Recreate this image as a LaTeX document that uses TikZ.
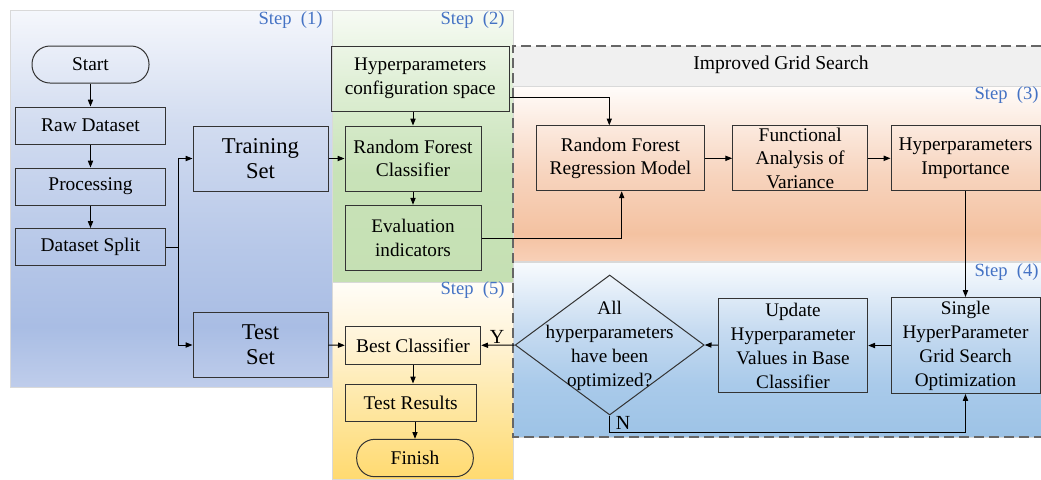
\documentclass[tikz,border=0pt]{standalone}
\usepackage{fontspec}
\setmainfont{Liberation Serif}
\usetikzlibrary{arrows.meta,shapes.geometric}
\definecolor{stepblue}{HTML}{4472C4}
% blue panel (step 1)
\definecolor{bA}{HTML}{BFCDEB}\definecolor{bB}{HTML}{A9BDE4}\definecolor{bC}{HTML}{B6C7E8}\definecolor{bD}{HTML}{D2DCF0}\definecolor{bE}{HTML}{F5F7FC}
\pgfdeclareverticalshading{blueshade}{100bp}{color(0bp)=(bA); color(25bp)=(bA); color(33bp)=(bB); color(43bp)=(bC); color(60bp)=(bD); color(75bp)=(bE); color(100bp)=(bE)}
% green panel (step 2)
\definecolor{gA}{HTML}{C5E0B3}\definecolor{gB}{HTML}{C8E2B8}\definecolor{gC}{HTML}{DDEED3}\definecolor{gD}{HTML}{F7FBF4}
\pgfdeclareverticalshading{greenshade}{100bp}{color(0bp)=(gA); color(25bp)=(gA); color(45bp)=(gB); color(60bp)=(gC); color(75bp)=(gD); color(100bp)=(gD)}
% yellow panel (step 5)
\definecolor{yA}{HTML}{FFDA70}\definecolor{yB}{HTML}{FEE8A8}\definecolor{yC}{HTML}{FFF3D6}\definecolor{yD}{HTML}{FFFDF8}
\pgfdeclareverticalshading{yellowshade}{100bp}{color(0bp)=(yA); color(25bp)=(yA); color(45bp)=(yB); color(60bp)=(yC); color(75bp)=(yD); color(100bp)=(yD)}
% orange panel (step 3)
\definecolor{oA}{HTML}{F8D0B8}\definecolor{oB}{HTML}{F4C2A1}\definecolor{oC}{HTML}{F7D4BE}\definecolor{oD}{HTML}{FFFCFA}
\pgfdeclareverticalshading{orangeshade}{100bp}{color(0bp)=(oA); color(25bp)=(oA); color(33bp)=(oB); color(50bp)=(oC); color(75bp)=(oD); color(100bp)=(oD)}
% blue panel (step 4)
\definecolor{cA}{HTML}{9DC3E6}\definecolor{cB}{HTML}{A9CAEA}\definecolor{cC}{HTML}{C5DAF0}\definecolor{cD}{HTML}{F8FBFE}
\pgfdeclareverticalshading{skyshade}{100bp}{color(0bp)=(cA); color(25bp)=(cA); color(40bp)=(cB); color(55bp)=(cC); color(75bp)=(cD); color(100bp)=(cD)}
\definecolor{bandgray}{HTML}{F0F0F0}
\begin{document}
\begin{tikzpicture}[x=0.5pt,y=-0.5pt,
  box/.style={draw=black!80, line width=0.5pt, align=center, inner sep=0pt, font=\fontsize{9.7}{11.6}\selectfont},
  bigbox/.style={box, font=\fontsize{11.3}{12.6}\selectfont},
  tallbox/.style={box, font=\fontsize{9.6}{12}\selectfont},
  term/.style={box, rounded corners=9pt},
  arr/.style={-{Triangle[length=3.4pt,width=2.6pt]}, line width=0.5pt},
  conn/.style={line width=0.5pt},
  steplabel/.style={text=stepblue, font=\fontsize{9.3}{11}\selectfont, anchor=east, inner sep=0pt},
  panel/.style={draw=black!15, line width=0.4pt},
  dashframe/.style={draw=black!60, line width=0.6pt, dash pattern=on 5pt off 2.5pt},
]
\useasboundingbox (0,0) rectangle (1041,479);
% panels
\shadedraw[panel, shading=blueshade] (10,10) rectangle (332,387);
\shadedraw[panel, shading=greenshade] (332,10) rectangle (513,282);
\shadedraw[panel, shading=yellowshade] (332,282) rectangle (513,479);
\fill[bandgray] (513,46) rectangle (1041,86);
\shadedraw[panel, shading=orangeshade] (513,86) rectangle (1042,261.5);
\shadedraw[panel, shading=skyshade] (513,262) rectangle (1042,437);
\draw[dashframe] (1041,46) -- (513,46) -- (513,437) -- (1041,437);

% step labels
\node[steplabel] (s1) at (323,20) {Step\hspace{0.5em}(1)};
\node[steplabel] (s2) at (505,20) {Step\hspace{0.5em}(2)};
\node[steplabel] (s3) at (1039,95) {Step\hspace{0.5em}(3)};
\node[steplabel] (s4) at (1039,272) {Step\hspace{0.5em}(4)};
\node[steplabel] (s5) at (505,290) {Step\hspace{0.5em}(5)};
\node[font=\fontsize{9.8}{11}\selectfont, inner sep=0pt] (igs) at (781,65) {Improved Grid Search};

% step 1
\node[term, minimum width=58.5pt, minimum height=18.5pt] (start) at (90.5,64.5) {Start};
\node[box, minimum width=75pt, minimum height=18.5pt] (raw) at (90.5,125.5) {Raw Dataset};
\node[box, minimum width=75pt, minimum height=18.5pt] (proc) at (90.5,186.5) {Processing};
\node[box, minimum width=75pt, minimum height=18.5pt] (split) at (90.5,247) {Dataset Split};
\node[bigbox, minimum width=67.5pt, minimum height=32.5pt] (train) at (260.5,158.5) {Training\\Set};
\node[bigbox, minimum width=67.5pt, minimum height=32.5pt] (test) at (260.5,345) {Test\\Set};
\coordinate (j) at (178,247);

% step 2
\node[tallbox, minimum width=89.3pt, minimum height=32.5pt] (config) at (420.3,78.5) {Hyperparameters\\configuration space};
\node[box, minimum width=68pt, minimum height=32.5pt] (rfc) at (413,158.5) {Random Forest\\Classifier};
\node[tallbox, minimum width=68pt, minimum height=32.8pt] (eval) at (413,238) {Evaluation\\indicators};

% step 3
\node[box, minimum width=84pt, minimum height=32.5pt] (rfr) at (620.5,158.3) {Random Forest\\Regression Model};
\node[box, font=\fontsize{9.7}{11.7}\selectfont, minimum width=67.5pt, minimum height=32.5pt] (fav) at (800.2,158.3) {Functional\\Analysis of\\Variance};
\node[box, minimum width=74.5pt, minimum height=32.5pt] (hi) at (965.5,158.3) {Hyperparameters\\Importance};

% step 4
\node[tallbox, minimum width=74.5pt, minimum height=48pt] (single) at (965.5,345.5) {Single\\HyperParameter\\Grid Search\\Optimization};
\node[tallbox, minimum width=74.7pt, minimum height=47pt] (update) at (793,345.5) {Update\\Hyperparameter\\Values in Base\\Classifier};
\node[draw=black!80, line width=0.5pt, diamond, minimum width=94.5pt, minimum height=70pt, inner sep=0pt] (dec) at (609.7,345) {};
\node[align=center, inner sep=0pt, font=\fontsize{9.6}{12}\selectfont] (dectext) at (609.7,346) {All\\hyperparameters\\have been\\optimized?};

% step 5
\node[box, minimum width=67.7pt, minimum height=18.7pt] (best) at (413,345.3) {Best Classifier};
\node[box, minimum width=65.3pt, minimum height=18.5pt] (results) at (410.7,402.5) {Test Results};
\node[term, minimum width=58.3pt, minimum height=18.7pt] (finish) at (415,458) {Finish};

% connectors
\draw[arr] (start) -- (raw);
\draw[arr] (raw) -- (proc);
\draw[arr] (proc) -- (split);
\draw[conn] (split.east) -- (j);
\draw[arr] (j) |- (train.west);
\draw[arr] (j) |- (test.west);
\draw[arr] (train.east) -- (rfc.west);
\draw[arr] (test.east) -- (best.west);
\draw[arr] (config.south -| rfc.north) -- (rfc.north);
\draw[arr] (rfc) -- (eval);
\draw[arr] ([yshift=-9.6pt]config.east) -| ([xshift=-5.6pt]rfr.north);
\draw[arr] (eval.east) -| ([xshift=0.6pt]rfr.south);
\draw[arr] (rfr) -- (fav);
\draw[arr] (fav) -- (hi);
\draw[arr] (hi.south) -- (single.north);
\draw[arr] (single) -- (update);
\draw[arr] (update) -- (dec.east);
\draw[arr] (dec.west) -- (best.east);
\draw[arr] (dec.south) -- ++(0,16.7) -| (single.south);
\draw[arr] (best) -- (best |- results.north);
\draw[arr] (results.south -| finish.north) -- (finish.north);
\node[font=\fontsize{10}{12}\selectfont, inner sep=0pt] (ylab) at (497,337) {Y};
\node[font=\fontsize{10}{12}\selectfont, inner sep=0pt] (nlab) at (623,423) {N};
\end{tikzpicture}
\end{document}
